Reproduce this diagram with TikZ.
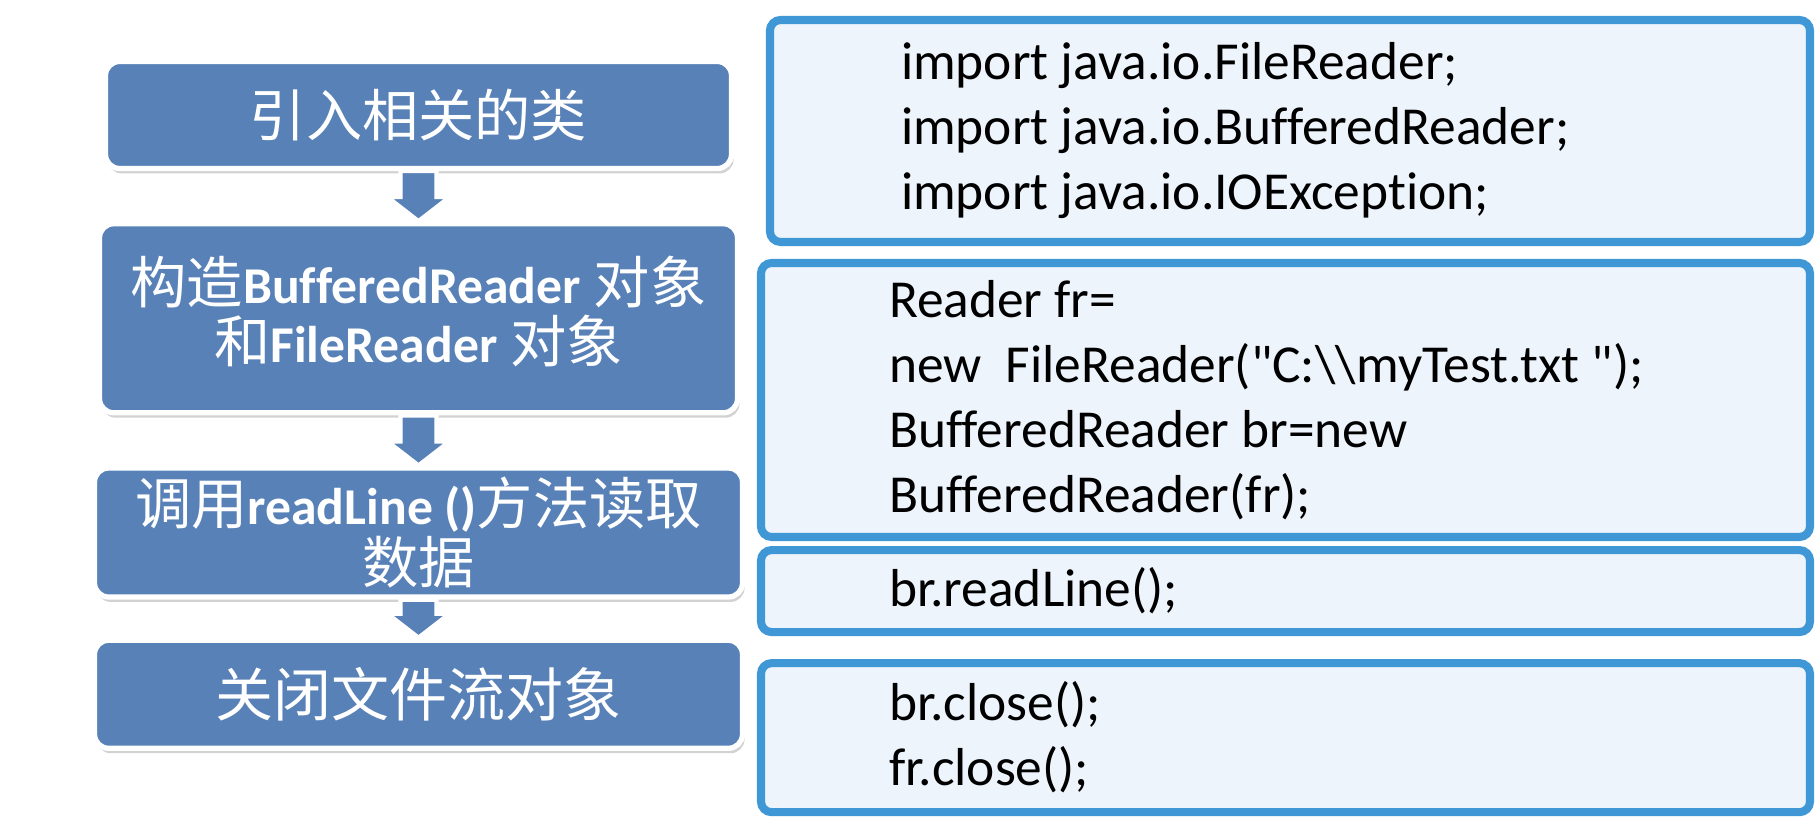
\documentclass[tikz,border=0pt]{standalone}
\usepackage{fontspec}
\setmainfont{Carlito}[Ligatures={TeXOff,CommonOff}]
\newfontfamily\cjk{Noto Sans CJK SC}
\usetikzlibrary{positioning,calc,shadows}
\definecolor{stepblue}{HTML}{5881B7}
\definecolor{codeedge}{HTML}{3F98D5}
\definecolor{codefill}{HTML}{EEF4FC}
\newcommand{\latinbf}[1]{{\fontsize{14.7}{16.5}\selectfont\bfseries #1}}

\begin{document}
\begin{tikzpicture}[
  stepbox/.style={fill=stepblue, draw=white, line width=1.5pt, rounded corners=4pt,
                  inner sep=0pt, align=flush center, text=white,
                  font=\fontsize{16}{16.8}\selectfont,
                  drop shadow={shadow xshift=0.6pt, shadow yshift=-1.4pt, opacity=0.35}},
  codebox/.style={fill=codefill, draw=codeedge, line width=2.3pt, rounded corners=3pt,
                  inner ysep=0pt, align=flush left, font=\fontsize{15.2}{18.5}\selectfont},
  flowarrow/.style={fill=stepblue, draw=white, line width=1.2pt,
    to path={let \p1=(\tikztostart), \p2=(\tikztotarget) in
      (\x1-1.8mm,\y1) -- (\x1+1.8mm,\y1) -- (\x1+1.8mm,\y2+2.4mm)
      -- (\x1+3.1mm,\y2+2.4mm) -- (\x1,\y2) -- (\x1-3.1mm,\y2+2.4mm)
      -- (\x1-1.8mm,\y2+2.4mm) -- cycle}},
]
  \path[use as bounding box, fill=white] (0,0) rectangle (18.2,8.2);

  % steps on the left
  \node[stepbox, text width=6.26cm, minimum height=1.07cm] (classes) at (4.185,7.05) {{\cjk 引入相关的类}};
  \node[stepbox, text width=6.38cm, minimum height=1.89cm, below=0.50cm of classes] (construct) {{\cjk 构造}\latinbf{BufferedReader} {\cjk 对象}\\{\cjk 和}\latinbf{FileReader} {\cjk 对象}\par\vspace{4pt}};
  \node[stepbox, text width=6.48cm, minimum height=1.29cm, below=0.50cm of construct] (readdata) {{\cjk 调用}\latinbf{readLine ()}{\cjk 方法读取}\\{\cjk 数据}};
  \node[stepbox, text width=6.48cm, minimum height=1.08cm, below=0.38cm of readdata] (closing) {{\cjk\fontsize{16.5}{18}\selectfont 关闭文件流对象}};

  % code on the right
  \node[codebox, text width=7.78cm, inner xsep=1.31cm, minimum height=2.22cm] (imports) at (12.9,6.89) {import java.io.FileReader;\\import java.io.BufferedReader;\\import java.io.IOException;};
  \node[codebox, text width=7.93cm, inner xsep=1.28cm, minimum height=2.74cm] (javacode) at (12.855,4.2) {Reader fr=\\new\ \ FileReader("C:\textbackslash\textbackslash myTest.txt\ ");\\BufferedReader br=new\\BufferedReader(fr);};
  \node[codebox, text width=7.93cm, inner xsep=1.28cm, minimum height=0.82cm, below=0.05cm of javacode] (readcode) {br.readLine();};
  \node[codebox, text width=7.93cm, inner xsep=1.28cm, minimum height=1.49cm, below=0.23cm of readcode] (closecode) {br.close();\\fr.close();};

  \draw[flowarrow] (classes.south) to (construct.north);
  \draw[flowarrow] (construct.south) to (readdata.north);
  \draw[flowarrow] (readdata.south) to (closing.north);
\end{tikzpicture}
\end{document}
